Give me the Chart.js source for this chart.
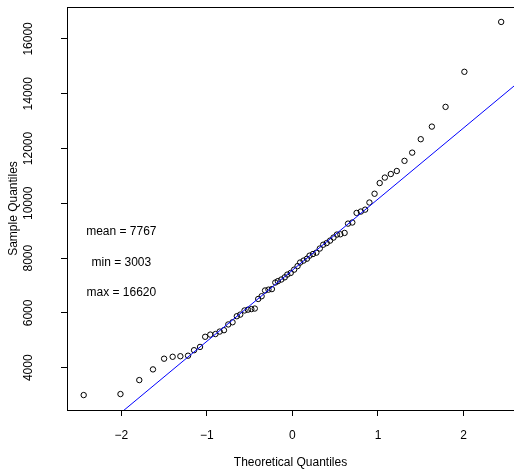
<!DOCTYPE html>
<html>
<head>
<meta charset="utf-8">
<script src="https://cdn.jsdelivr.net/npm/chart.js@4.4.0/dist/chart.umd.min.js"></script>
<style>
  html, body { margin: 0; padding: 0; background: #fff; }
  canvas { display: block; }
</style>
</head>
<body>
<canvas id="qq" width="514" height="471"></canvas>
<script>
// theoretical normal quantiles (x) and sorted sample values (y)
const theoretical = [
  -2.44, -2.01, -1.79, -1.63, -1.50, -1.40, -1.31, -1.22, -1.15, -1.08,
  -1.02, -0.96, -0.90, -0.85, -0.80, -0.75, -0.70, -0.65, -0.61, -0.56,
  -0.52, -0.48, -0.44, -0.40, -0.36, -0.32, -0.28, -0.24, -0.20, -0.17,
  -0.13, -0.09, -0.06, -0.02, 0.02, 0.06, 0.09, 0.13, 0.17, 0.20,
  0.24, 0.28, 0.32, 0.36, 0.40, 0.44, 0.48, 0.52, 0.56, 0.61,
  0.65, 0.70, 0.75, 0.80, 0.85, 0.90, 0.96, 1.02, 1.08, 1.15,
  1.22, 1.31, 1.40, 1.50, 1.63, 1.79, 2.01, 2.44
];
const sample = [
  3003, 3040, 3550, 3940, 4330, 4400, 4420, 4440, 4640, 4760,
  5130, 5210, 5230, 5320, 5370, 5580, 5660, 5880, 5940, 6090,
  6120, 6140, 6160, 6510, 6610, 6820, 6850, 6870, 7110, 7160,
  7220, 7300, 7400, 7460, 7580, 7710, 7840, 7910, 7980, 8090,
  8150, 8200, 8350, 8490, 8550, 8640, 8750, 8860, 8870, 8920,
  9260, 9300, 9650, 9700, 9770, 10030, 10350, 10740, 10940, 11070,
  11180, 11550, 11850, 12340, 12800, 13520, 14800, 16620
];
const xTicks = [-2, -1, 0, 1, 2];
const yTicks = [4000, 6000, 8000, 10000, 12000, 14000, 16000];
const xRange = [-2.635, 2.59];
const yRange = [2458, 17165];

// reference line through the quartiles
const qqIntercept = 7560;
const qqSlope = 2595;
const lineEnds = [-3, 3];

const noteLabels = ['mean = 7767', 'min = 3003', 'max = 16620'];
const noteY = [8950, 7850, 6750];
const noteX = -2;

const FONT = '"Liberation Sans", Arial, Helvetica, sans-serif';
Chart.defaults.font.family = FONT;
Chart.defaults.font.size = 12;
Chart.defaults.color = '#000';

const points = theoretical.map((t, i) => ({ x: t, y: sample[i] }));
const qqLine = lineEnds.map(t => ({ x: t, y: qqIntercept + qqSlope * t }));

function fmt(v){ return v < 0 ? '\u2212' + Math.abs(v) : String(v); }

function noPad(s){ s.paddingTop = 0; s.paddingBottom = 0; s.paddingLeft = 0; s.paddingRight = 0; }

// top edge of the box, vertical y tick labels (R style) and the text notes
const boxAndNotes = {
  id: 'boxAndNotes',
  afterDraw(chart){
    const { ctx, chartArea: a, scales: { x, y } } = chart;
    ctx.save();
    ctx.strokeStyle = '#000';
    ctx.lineWidth = 1;
    ctx.beginPath();
    ctx.moveTo(a.left, Math.round(a.top) + 0.5);
    ctx.lineTo(chart.width, Math.round(a.top) + 0.5);
    ctx.stroke();
    ctx.fillStyle = '#000';
    ctx.font = '12px ' + FONT;
    ctx.textAlign = 'center';
    ctx.textBaseline = 'middle';
    yTicks.forEach(v => {
      ctx.save();
      ctx.translate(a.left - 38, y.getPixelForValue(v));
      ctx.rotate(-Math.PI / 2);
      ctx.fillText(String(v), 0, 0);
      ctx.restore();
    });
    noteLabels.forEach((t, i) => {
      ctx.fillText(t, x.getPixelForValue(noteX), y.getPixelForValue(noteY[i]));
    });
    ctx.restore();
  }
};

new Chart(document.getElementById('qq'), {
  type: 'scatter',
  data: {
    datasets: [
      {
        type: 'line',
        data: qqLine,
        borderColor: '#0000ff',
        borderWidth: 1,
        pointRadius: 0,
        order: 0
      },
      {
        data: points,
        showLine: false,
        pointStyle: 'circle',
        pointRadius: 2.7,
        pointBorderWidth: 1,
        pointBackgroundColor: 'rgba(0,0,0,0)',
        pointBorderColor: '#000',
        order: 1
      }
    ]
  },
  options: {
    responsive: false,
    animation: false,
    events: [],
    layout: { autoPadding: false, padding: { top: 7, left: 0, right: 0, bottom: 0 } },
    plugins: { legend: { display: false }, tooltip: { enabled: false } },
    scales: {
      x: {
        type: 'linear',
        position: 'bottom',
        min: xRange[0],
        max: xRange[1],
        afterBuildTicks: s => { s.ticks = xTicks.map(v => ({ value: v })); },
        afterFit: s => { s.height = 61; noPad(s); },
        grid: { drawOnChartArea: false, drawTicks: true, tickLength: 6, color: '#000' },
        border: { display: true, color: '#000', width: 1 },
        ticks: { padding: 12, callback: v => fmt(v), maxRotation: 0, autoSkip: false },
        title: { display: true, text: 'Theoretical Quantiles', padding: { top: 0, bottom: 1 } }
      },
      y: {
        type: 'linear',
        min: yRange[0],
        max: yRange[1],
        afterBuildTicks: s => { s.ticks = yTicks.map(v => ({ value: v })); },
        afterFit: s => { s.width = 67; noPad(s); },
        grid: { drawOnChartArea: false, drawTicks: true, tickLength: 6, color: '#000' },
        border: { display: true, color: '#000', width: 1 },
        ticks: { display: false },
        title: { display: true, text: 'Sample Quantiles', padding: { top: 6, bottom: 0 } }
      }
    }
  },
  plugins: [boxAndNotes]
});
</script>
</body>
</html>
